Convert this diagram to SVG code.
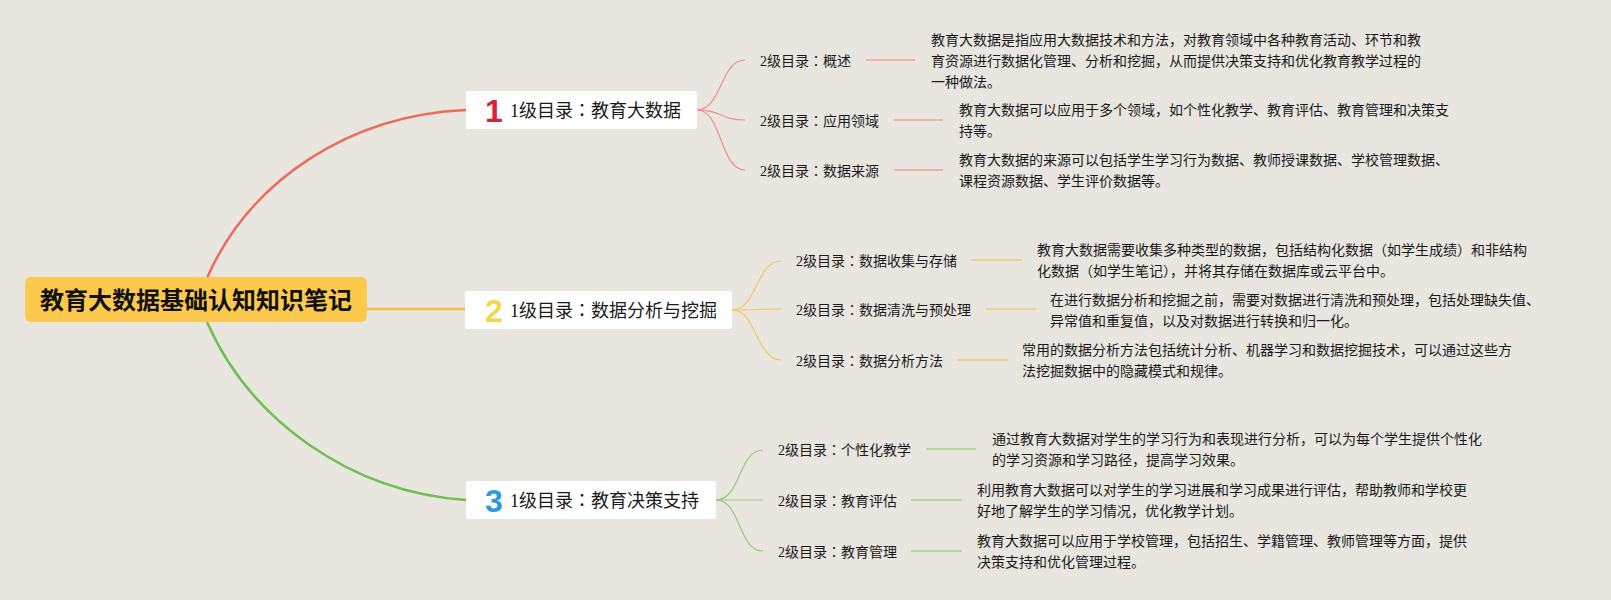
<svg xmlns="http://www.w3.org/2000/svg" width="1611" height="600" viewBox="0 0 1611 600">
<style>
.bg{fill:#E8E6DF}
.txt{font-family:"Liberation Serif","Noto Sans CJK SC",serif;fill:#1a1a1a}
.colon{font-family:"Noto Sans CJK JP",sans-serif}
.root{font-family:"Noto Sans CJK SC",sans-serif;font-weight:bold;font-size:24px;fill:#111}
.l1{font-size:18px}
.l2{font-size:14px}
.p{font-family:"Noto Sans CJK SC",sans-serif;font-size:14px;fill:#1a1a1a}
.num{font-family:"Liberation Sans",sans-serif;font-weight:bold;font-size:32px;text-anchor:middle}
.box{fill:#ffffff}
.c{fill:none}
.mr{stroke:#EE6B5C;stroke-width:2.5}
.my{stroke:#F6BF3F;stroke-width:2.5}
.mg{stroke:#6CC04F;stroke-width:2.5}
.sr{stroke:#EF8D80;stroke-width:1.2}
.sy{stroke:#F4C65C;stroke-width:1.2}
.sg{stroke:#92CB78;stroke-width:1.2}
.tr{stroke:#EEB1A7;stroke-width:2}
.ty{stroke:#F0D08E;stroke-width:2}
.tg{stroke:#B2D89C;stroke-width:2}
</style>
<rect class="bg" x="0" y="0" width="1611" height="600"/>
<g id="connectors" class="c">
<path class="mr" d="M207,278 C250,180 350,115 466,110"/>
<path class="my" d="M367,309 L465,309"/>
<path class="mg" d="M207,322 C250,420 350,492 466,500"/>
<path class="sr" d="M697,110 C722,110 720,60 745,60"/>
<path class="sr" d="M697,110 C722,110 720,120 745,120"/>
<path class="sr" d="M697,110 C722,110 720,170 745,170"/>
<path class="sy" d="M732,310 C757,310 756,261 781,261"/>
<path class="sy" d="M732,310 C757,310 756,309 781,309"/>
<path class="sy" d="M732,310 C757,310 756,360 781,360"/>
<path class="sg" d="M716,500 C741,500 738,450 763,450"/>
<path class="sg" d="M716,500 C741,500 738,500 763,500"/>
<path class="sg" d="M716,500 C741,500 738,551 763,551"/>
<path class="tr" d="M866,60 L915,60"/>
<path class="tr" d="M894,120 L943,120"/>
<path class="tr" d="M894,170 L943,170"/>
<path class="ty" d="M971,260 L1022,260"/>
<path class="ty" d="M986,309 L1036,309"/>
<path class="ty" d="M957,360 L1008,360"/>
<path class="tg" d="M926,449 L976,449"/>
<path class="tg" d="M911,500 L962,500"/>
<path class="tg" d="M911,551 L962,551"/>
</g>
<g id="root">
<rect x="25" y="277" width="342" height="45" rx="6" fill="#FDC94D"/>
<text class="root" x="196" y="308.5" text-anchor="middle">教育大数据基础认知知识笔记</text>
</g>
<g id="n1">
<rect class="box" x="466" y="91" width="231" height="38" rx="2"/>
<text class="num" x="494" y="121.5" fill="#D8213A">1</text>
<text class="txt l1" x="510" y="116.5">1级目录<tspan class="colon">：</tspan>教育大数据</text>
</g>
<g id="n2">
<rect class="box" x="465" y="291" width="267" height="38" rx="2"/>
<text class="num" x="494" y="321.5" fill="#F4D64B">2</text>
<text class="txt l1" x="510" y="316.5">1级目录<tspan class="colon">：</tspan>数据分析与挖掘</text>
</g>
<g id="n3">
<rect class="box" x="466" y="481" width="250" height="38" rx="2"/>
<text class="num" x="494" y="511.5" fill="#2B9BDC">3</text>
<text class="txt l1" x="510" y="506.5">1级目录<tspan class="colon">：</tspan>教育决策支持</text>
</g>
<g id="n1a">
<text class="txt l2" x="760" y="65.5">2级目录<tspan class="colon">：</tspan>概述</text>
<text class="p" x="931" y="45"><tspan x="931">教育大数据是指应用大数据技术和方法，对教育领域中各种教育活动、环节和教</tspan><tspan x="931" dy="21">育资源进行数据化管理、分析和挖掘，从而提供决策支持和优化教育教学过程的</tspan><tspan x="931" dy="21">一种做法。</tspan></text>
</g>
<g id="n1b">
<text class="txt l2" x="760" y="125.5">2级目录<tspan class="colon">：</tspan>应用领域</text>
<text class="p" x="959" y="115"><tspan x="959">教育大数据可以应用于多个领域，如个性化教学、教育评估、教育管理和决策支</tspan><tspan x="959" dy="21">持等。</tspan></text>
</g>
<g id="n1c">
<text class="txt l2" x="760" y="175.5">2级目录<tspan class="colon">：</tspan>数据来源</text>
<text class="p" x="959" y="165"><tspan x="959">教育大数据的来源可以包括学生学习行为数据、教师授课数据、学校管理数据、</tspan><tspan x="959" dy="21">课程资源数据、学生评价数据等。</tspan></text>
</g>
<g id="n2a">
<text class="txt l2" x="796" y="266">2级目录<tspan class="colon">：</tspan>数据收集与存储</text>
<text class="p" x="1037" y="255"><tspan x="1037">教育大数据需要收集多种类型的数据，包括结构化数据（如学生成绩）和非结构</tspan><tspan x="1037" dy="21">化数据（如学生笔记），并将其存储在数据库或云平台中。</tspan></text>
</g>
<g id="n2b">
<text class="txt l2" x="796" y="315">2级目录<tspan class="colon">：</tspan>数据清洗与预处理</text>
<text class="p" x="1050" y="305"><tspan x="1050">在进行数据分析和挖掘之前，需要对数据进行清洗和预处理，包括处理缺失值、</tspan><tspan x="1050" dy="21">异常值和重复值，以及对数据进行转换和归一化。</tspan></text>
</g>
<g id="n2c">
<text class="txt l2" x="796" y="365.5">2级目录<tspan class="colon">：</tspan>数据分析方法</text>
<text class="p" x="1022" y="355"><tspan x="1022">常用的数据分析方法包括统计分析、机器学习和数据挖掘技术，可以通过这些方</tspan><tspan x="1022" dy="21">法挖掘数据中的隐藏模式和规律。</tspan></text>
</g>
<g id="n3a">
<text class="txt l2" x="778" y="455">2级目录<tspan class="colon">：</tspan>个性化教学</text>
<text class="p" x="992" y="444"><tspan x="992">通过教育大数据对学生的学习行为和表现进行分析，可以为每个学生提供个性化</tspan><tspan x="992" dy="21">的学习资源和学习路径，提高学习效果。</tspan></text>
</g>
<g id="n3b">
<text class="txt l2" x="778" y="506">2级目录<tspan class="colon">：</tspan>教育评估</text>
<text class="p" x="977" y="495"><tspan x="977">利用教育大数据可以对学生的学习进展和学习成果进行评估，帮助教师和学校更</tspan><tspan x="977" dy="21">好地了解学生的学习情况，优化教学计划。</tspan></text>
</g>
<g id="n3c">
<text class="txt l2" x="778" y="556.5">2级目录<tspan class="colon">：</tspan>教育管理</text>
<text class="p" x="977" y="545.5"><tspan x="977">教育大数据可以应用于学校管理，包括招生、学籍管理、教师管理等方面，提供</tspan><tspan x="977" dy="21">决策支持和优化管理过程。</tspan></text>
</g>
</svg>
